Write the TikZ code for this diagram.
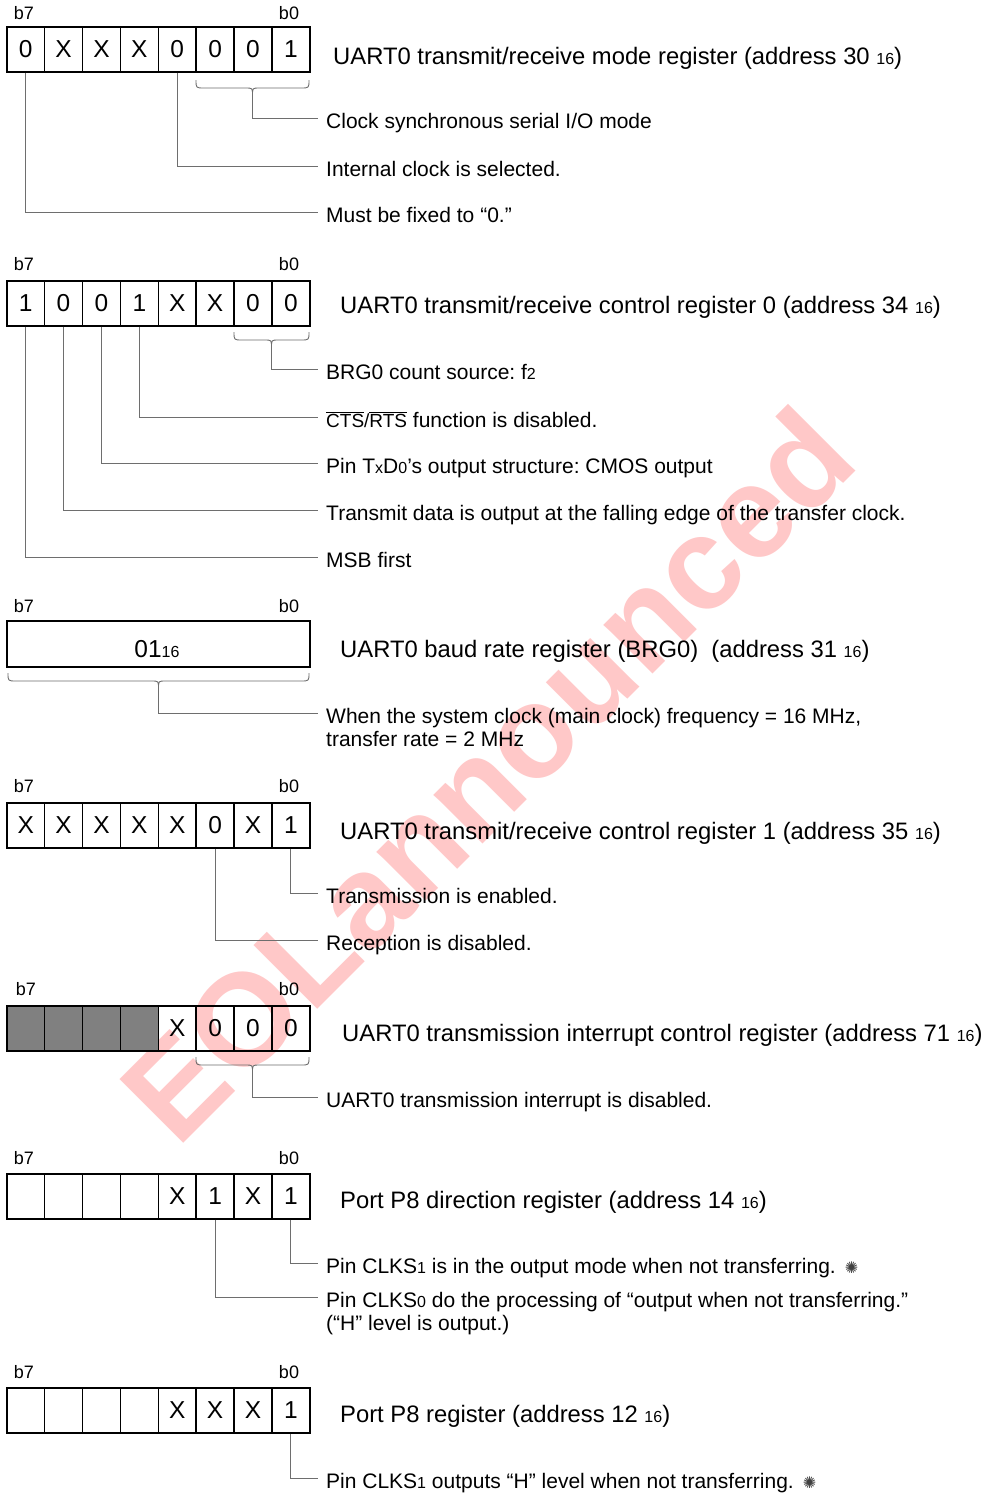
\documentclass[tikz,border=0pt]{standalone}
\usepackage{fontspec}
\setmainfont{Liberation Sans}
\newfontfamily\symfont{DejaVu Sans}
\definecolor{wmpink}{RGB}{255,200,200}
\definecolor{leadgray}{RGB}{110,110,110}
\frenchspacing
\newcommand\sm[1]{{\fontsize{16}{16}\selectfont #1}}
\newcommand\starmark{\hspace{9pt}{\symfont\fontsize{16}{16}\selectfont\color{black!75}✺}}
\newcommand\regcells[4]{% prefix, ytop, values, number of grey cells
  \foreach \v [count=\k from 0] in {#3} {
    \pgfmathtruncatemacro\bit{7-\k}
    \ifnum\k<#4\relax\def\cf{black!50}\else\def\cf{none}\fi
    \node[cell, fill=\cf] (#1b\bit) at ({6+\k*37.875},#2) {\v};
  }
}
\newcommand\regbrace[4]{% x1, x2, ytop, name of tip
  \pgfmathsetmacro\bm{(#1+#2)/2}
  \draw[lead] (#1,#3) .. controls (#1,#3+8) .. (#1+8,#3+8) -- (\bm-7,#3+8)
     .. controls (\bm,#3+8) .. (\bm,#3+15)
     .. controls (\bm,#3+8) .. (\bm+7,#3+8) -- (#2-8,#3+8)
     .. controls (#2,#3+8) .. (#2,#3);
  \coordinate (#4) at (\bm,#3+15);
}
\begin{document}
\begin{tikzpicture}[x=1pt,y=-1pt,
  cell/.style={draw, line width=1.5pt, minimum width=37.875pt, minimum height=45pt,
    inner sep=0pt, anchor=north west, font=\fontsize{24.5}{24.5}\selectfont},
  bitlbl/.style={font=\fontsize{18}{18}\selectfont, anchor=base, inner sep=0pt},
  regtitle/.style={font=\fontsize{23.8}{28}\selectfont, anchor=base west, inner sep=0pt},
  desc/.style={font=\fontsize{21}{23}\selectfont, anchor=base west, inner sep=0pt, align=left},
  lead/.style={line width=0.9pt, draw=leadgray},
  watermark/.style={text=wmpink, font=\fontsize{131}{131}\selectfont\bfseries, anchor=base, inner sep=0pt, rotate=45}
]
\fill[white] (0,0) rectangle (990,1494);
\node[watermark] (wm) at (520,807) {EOLannounced};

% ---------- register 1 ----------
\node[bitlbl] (r1b7l) at (24,19) {b7};
\node[bitlbl] (r1b0l) at (289,19) {b0};
\regcells{ra}{26}{0,X,X,X,0,0,0,1}{0}
\node[regtitle] (t1) at (333,64) {UART0 transmit/receive mode register (address 30 \sm{16})};
\regbrace{196}{309}{80}{br1}
\node[desc] (d1a) at (326,128) {Clock synchronous serial I/O mode};
\node[desc] (d1b) at (326,176) {Internal clock is selected.};
\node[desc] (d1c) at (326,222) {Must be fixed to “0.”};
\draw[lead] (br1) |- ([xshift=-8pt,yshift=10pt]d1a.base west);
\draw[lead] (rab3.south) |- ([xshift=-8pt,yshift=10pt]d1b.base west);
\draw[lead] (rab7.south) |- ([xshift=-8pt,yshift=10pt]d1c.base west);

% ---------- register 2 ----------
\node[bitlbl] (r2b7l) at (24,270) {b7};
\node[bitlbl] (r2b0l) at (289,270) {b0};
\regcells{rb}{280}{1,0,0,1,X,X,0,0}{0}
\node[regtitle] (t2) at (340,313) {UART0 transmit/receive control register 0 (address 34 \sm{16})};
\regbrace{234}{309}{332}{br2}
\node[desc] (d2a) at (326,379) {BRG0 count source: f\sm{2}};
\node[desc] (d2b) at (326,427) {{\fontsize{19}{19}\selectfont\(\overline{\mbox{CTS}}\)/\(\overline{\mbox{RTS}}\)} function is disabled.};
\node[desc] (d2c) at (326,473) {Pin T\sm{x}D\sm{0}’s output structure: CMOS output};
\node[desc] (d2d) at (326,520) {Transmit data is output at the falling edge of the transfer clock.};
\node[desc] (d2e) at (326,567) {MSB first};
\draw[lead] (br2) |- ([xshift=-8pt,yshift=10pt]d2a.base west);
\draw[lead] (rbb4.south) |- ([xshift=-8pt,yshift=10pt]d2b.base west);
\draw[lead] (rbb5.south) |- ([xshift=-8pt,yshift=10pt]d2c.base west);
\draw[lead] (rbb6.south) |- ([xshift=-8pt,yshift=10pt]d2d.base west);
\draw[lead] (rbb7.south) |- ([xshift=-8pt,yshift=10pt]d2e.base west);

% ---------- register 3 ----------
\node[bitlbl] (r3b7l) at (24,612) {b7};
\node[bitlbl] (r3b0l) at (289,612) {b0};
\node[draw, line width=1.5pt, minimum width=303pt, minimum height=46pt, inner sep=0pt,
  anchor=north west] (rc) at (6,620) {};
\node[font=\fontsize{24.5}{24.5}\selectfont, anchor=base, inner sep=0pt] (rcv) at (157,657) {01\sm{16}};
\node[regtitle] (t3) at (340,657) {UART0 baud rate register (BRG0)\ \ (address 31 \sm{16})};
\regbrace{8}{309}{673}{br3}
\node[desc] (d3a) at (326,746) {When the system clock (main clock) frequency = 16 MHz,\\transfer rate = 2 MHz};
\draw[lead] (br3) |- ([xshift=-8pt,yshift=33pt]d3a.base west);

% ---------- register 4 ----------
\node[bitlbl] (r4b7l) at (24,792) {b7};
\node[bitlbl] (r4b0l) at (289,792) {b0};
\regcells{rd}{802}{X,X,X,X,X,0,X,1}{0}
\node[regtitle] (t4) at (340,839) {UART0 transmit/receive control register 1 (address 35 \sm{16})};
\node[desc] (d4a) at (326,903) {Transmission is enabled.};
\node[desc] (d4b) at (326,950) {Reception is disabled.};
\draw[lead] (rdb0.south) |- ([xshift=-8pt,yshift=10pt]d4a.base west);
\draw[lead] (rdb2.south) |- ([xshift=-8pt,yshift=10pt]d4b.base west);

% ---------- register 5 ----------
\node[bitlbl] (r5b7l) at (26,995) {b7};
\node[bitlbl] (r5b0l) at (289,995) {b0};
\regcells{re}{1005}{{},{},{},{},X,0,0,0}{4}
\node[regtitle] (t5) at (342,1041) {UART0 transmission interrupt control register (address 71 \sm{16})};
\regbrace{196}{309}{1057}{br5}
\node[desc] (d5a) at (326,1107) {UART0 transmission interrupt is disabled.};
\draw[lead] (br5) |- ([xshift=-8pt,yshift=10pt]d5a.base west);

% ---------- register 6 ----------
\node[bitlbl] (r6b7l) at (24,1164) {b7};
\node[bitlbl] (r6b0l) at (289,1164) {b0};
\regcells{rf}{1173}{{},{},{},{},X,1,X,1}{0}
\node[regtitle] (t6) at (340,1208) {Port P8 direction register (address 14 \sm{16})};
\node[desc] (d6a) at (326,1273) {Pin CLKS\sm{1} is in the output mode when not transferring.\starmark};
\node[desc] (d6b) at (326,1330) {Pin CLKS\sm{0} do the processing of “output when not transferring.”\\(“H” level is output.)};
\draw[lead] (rfb0.south) |- ([xshift=-8pt,yshift=10pt]d6a.base west);
\draw[lead] (rfb2.south) |- ([xshift=-8pt,yshift=33pt]d6b.base west);

% ---------- register 7 ----------
\node[bitlbl] (r7b7l) at (24,1378) {b7};
\node[bitlbl] (r7b0l) at (289,1378) {b0};
\regcells{rg}{1387}{{},{},{},{},X,X,X,1}{0}
\node[regtitle] (t7) at (340,1422) {Port P8 register (address 12 \sm{16})};
\node[desc] (d7a) at (326,1488) {Pin CLKS\sm{1} outputs “H” level when not transferring.\starmark};
\draw[lead] (rgb0.south) |- ([xshift=-8pt,yshift=10pt]d7a.base west);
\end{tikzpicture}
\end{document}
